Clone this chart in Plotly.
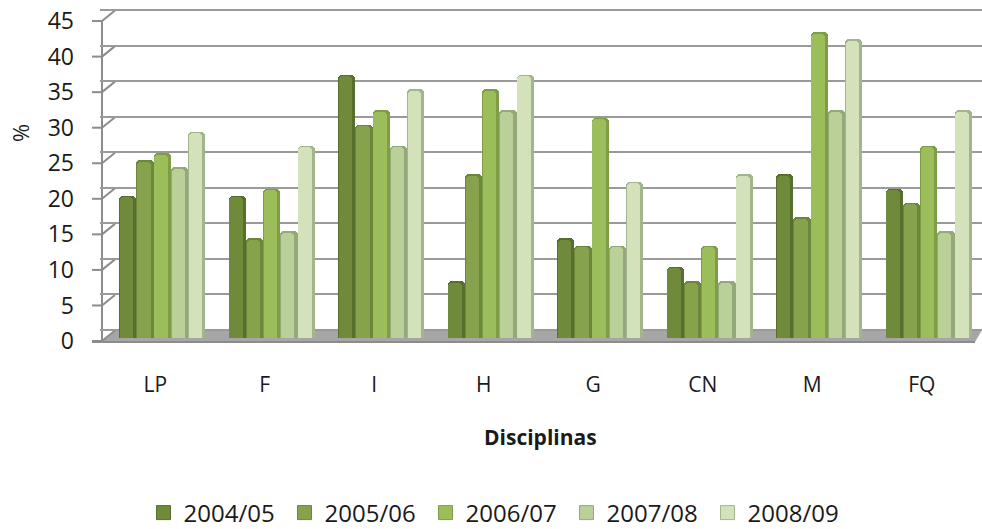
import plotly.graph_objects as go

categories = ["LP", "F", "I", "H", "G", "CN", "M", "FQ"]
series_names = ["2004/05", "2005/06", "2006/07", "2007/08", "2008/09"]
v0405 = [20, 20, 37, 8, 14, 10, 23, 21]
v0506 = [25, 14, 30, 23, 13, 8, 17, 19]
v0607 = [26, 21, 32, 35, 31, 13, 43, 27]
v0708 = [24, 15, 27, 32, 13, 8, 32, 15]
v0809 = [29, 27, 35, 37, 22, 23, 42, 32]
series_values = [v0405, v0506, v0607, v0708, v0809]
y_ticks = [0, 5, 10, 15, 20, 25, 30, 35, 40, 45]
edge = ["#566F2C", "#6C873A", "#7F9C46", "#94A97A", "#A3B58C"]
main = ["#6F8A3A", "#86A24C", "#9BBD5A", "#BBD098", "#D4E2BC"]
font = "Open Sans"
W, H = 982, 560
L, PB = 100, 346
ppu = 7.11
Y0 = 341
cw = 109.5

def yr(y0):
    return [(y0 - PB) / ppu, y0 / ppu]
def xr(c0):
    return [(L - c0) / cw, (W - c0) / cw]

fig = go.Figure()
w = 0.157
xs = list(range(len(categories)))
for k, name in enumerate(series_names):
    off = (k - 2.5) * w
    fig.add_trace(go.Bar(x=xs, y=series_values[k], name=name, showlegend=False,
        marker=dict(color=edge[k], line=dict(width=0)),
        width=w, offset=off, xaxis="x3", yaxis="y3"))
    fig.add_trace(go.Bar(x=xs, y=[v - 0.2 for v in series_values[k]], showlegend=False,
        hoverinfo="skip", marker=dict(color=main[k], line=dict(width=0)),
        width=w * 0.78, offset=off + w * 0.04, xaxis="x3", yaxis="y3"))
    fig.add_trace(go.Scatter(x=[None], y=[None], name=name, mode="markers", xaxis="x", yaxis="y",
        marker=dict(symbol="square", size=14, color=main[k], line=dict(color=edge[k], width=1))))

def px(x):
    return (x - L) / (W - L)
def py(y):
    return 1 - y / PB

shapes = [dict(type="path", xref="paper", yref="paper", layer="below",
               path=f"M {px(102)} {py(342)} L {px(115)} {py(330)} L {px(982)} {py(330)} L {px(975)} {py(342)} Z",
               fillcolor="#A6A6A6", line=dict(width=0))]
for t in y_ticks:
    yy = Y0 - t * ppu
    shapes.append(dict(type="line", xref="paper", yref="paper", layer="below",
                       x0=px(102), x1=px(115), y0=py(yy), y1=py(yy - 10.5),
                       line=dict(color="#8C8C8C", width=2)))
    shapes.append(dict(type="line", xref="paper", yref="paper", layer="below",
                       x0=px(92), x1=px(102), y0=py(yy), y1=py(yy),
                       line=dict(color="#8C8C8C", width=2)))
shapes.append(dict(type="line", xref="paper", yref="paper", layer="below",
                   x0=px(102), x1=px(102), y0=py(Y0), y1=py(Y0 - 45 * ppu),
                   line=dict(color="#8C8C8C", width=2)))
shapes.append(dict(type="line", xref="paper", yref="paper", layer="below",
                   x0=px(92), x1=px(975), y0=py(342), y1=py(342),
                   line=dict(color="#8C8C8C", width=2)))

fig.update_layout(
    width=W, height=H, autosize=False, paper_bgcolor="white", plot_bgcolor="rgba(0,0,0,0)",
    margin=dict(l=L, r=0, t=0, b=H - PB, pad=0),
    barmode="overlay", barcornerradius=4, bargap=0, shapes=shapes,
    font=dict(family=font, color="#1A1A1A"),
    xaxis=dict(range=xr(155.25), domain=[0, 1], tickvals=xs, ticktext=categories,
               showgrid=False, zeroline=False, showline=False, ticks="", tickfont=dict(size=21),
               ticklabelstandoff=24),
    yaxis=dict(range=yr(Y0), domain=[0, 1], tickvals=y_ticks, showgrid=False, zeroline=False,
               showline=False, ticks="", tickfont=dict(size=23), ticklabelstandoff=25),
    xaxis2=dict(range=[0, 1], domain=[px(115), 1], overlaying="x", anchor="y2", visible=False),
    yaxis2=dict(range=yr(Y0 - 11), domain=[0, 1], overlaying="y", anchor="x2", tickvals=y_ticks,
                showgrid=True, gridcolor="#9A9A9A", gridwidth=2, zeroline=False, showticklabels=False, ticks=""),
    xaxis3=dict(range=xr(162.25), domain=[0, 1], overlaying="x", anchor="y3", visible=False),
    yaxis3=dict(range=yr(338), domain=[0, 1], overlaying="y", anchor="x3", visible=False),
    legend=dict(orientation="h", x=px(496), xanchor="center", yanchor="middle", y=py(513),
                font=dict(size=24), traceorder="normal", itemwidth=30, entrywidth=96,
                entrywidthmode="pixels", bgcolor="rgba(0,0,0,0)"),
    annotations=[
        dict(text="<b>Disciplinas</b>", xref="paper", yref="paper", x=px(540), y=py(437),
             showarrow=False, font=dict(size=21), xanchor="center", yanchor="middle"),
        dict(text="%", xref="paper", yref="paper", x=px(20), y=py(133), textangle=-90,
             showarrow=False, font=dict(size=22), xanchor="center", yanchor="middle"),
    ],
)
fig.add_trace(go.Scatter(x=[0, 1], y=[0, 0], xaxis="x2", yaxis="y2", mode="lines",
                         line=dict(width=0), showlegend=False, hoverinfo="skip"))
fig.add_trace(go.Scatter(x=[0, 7], y=[0, 0], xaxis="x", yaxis="y", mode="lines",
                         line=dict(width=0), showlegend=False, hoverinfo="skip"))
fig.write_html("out.html", config=dict(displayModeBar=False),
               post_script="document.body.style.margin='0';document.documentElement.style.overflow='hidden';")
